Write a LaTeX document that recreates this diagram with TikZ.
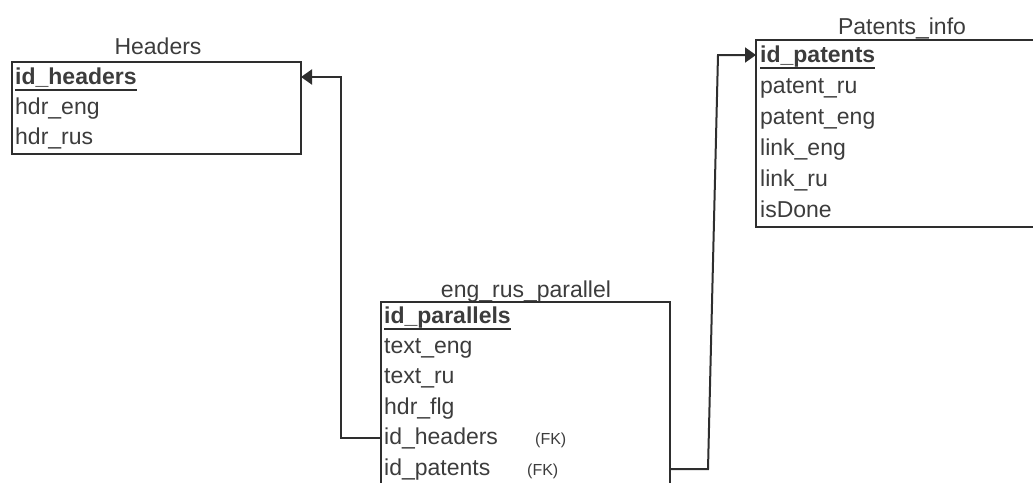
\documentclass[tikz,border=0pt]{standalone}
\usepackage{fontspec}
\setmainfont{Liberation Sans}
\usetikzlibrary{arrows.meta}
\definecolor{txt}{HTML}{3C3C3C}
\definecolor{ln}{HTML}{2E2E2E}
\begin{document}
\begin{tikzpicture}[x=1pt,y=-1pt,
  tbl/.style={draw=ln,line width=2pt,fill=none},
  row/.style={inner sep=0pt,anchor=base west,text=txt,font=\fontsize{23}{23}\selectfont},
  pk/.style={row,font=\fontsize{23}{23}\selectfont\bfseries},
  ttl/.style={inner sep=0pt,anchor=base,text=txt,font=\fontsize{23}{23}\selectfont},
  fk/.style={inner sep=0pt,anchor=base west,text=txt,font=\fontsize{16}{16}\selectfont},
  ul/.style={draw=ln,line width=2.2pt},
  conn/.style={draw=ln,line width=2pt},
  tip/.style={-{Triangle[length=11pt,width=15pt]}}]
\useasboundingbox (0,0) rectangle (1033,482);
\clip (0,0) rectangle (1033,482);
% Headers
\node[ttl] (hT) at (158,54.5) {Headers};
\draw[tbl] (12,62) rectangle (301,154);
\coordinate (hR) at (301,77);
\node[pk] (h1) at (15,84) {id\_headers};
\node[row] (h2) at (15,114) {hdr\_eng};
\node[row] (h3) at (15,144.5) {hdr\_rus};
\draw[ul] ([yshift=-6pt]h1.base west) -- ([yshift=-6pt]h1.base east);
% Patents_info
\node[ttl] (pT) at (902,34.5) {Patents\_info};
\draw[tbl] (756,40) rectangle (1045,227);
\coordinate (pL) at (756,55);
\node[pk] (p1) at (760,62) {id\_patents};
\node[row] (p2) at (760,93) {patent\_ru};
\node[row] (p3) at (760,124) {patent\_eng};
\node[row] (p4) at (760,155) {link\_eng};
\node[row] (p5) at (760,186) {link\_ru};
\node[row] (p6) at (760,217) {isDone};
\draw[ul] ([yshift=-6pt]p1.base west) -- ([yshift=-6pt]p1.base east);
% eng_rus_parallel
\node[ttl] (eT) at (526,297.5) {eng\_rus\_parallel};
\draw[tbl] (381,302) rectangle (670,495);
\node[pk] (e1) at (384,323) {id\_parallels};
\node[row] (e2) at (384,353.4) {text\_eng};
\node[row] (e3) at (384,383.8) {text\_ru};
\node[row] (e4) at (384,414.2) {hdr\_flg};
\node[row] (e5) at (384,444.6) {id\_headers};
\node[row] (e6) at (384,475) {id\_patents};
\node[fk] (f5) at (535,444.6) {(FK)};
\node[fk] (f6) at (527,475) {(FK)};
\draw[ul] ([yshift=-6pt]e1.base west) -- ([yshift=-6pt]e1.base east);
\coordinate (eL) at (381,438);
\coordinate (eR) at (670,469);
% connectors
\coordinate (b1) at (341,438);
\coordinate (b2) at (341,77);
\draw[conn,tip] (eL) -- (b1) -- (b2) -- (hR);
\coordinate (c1) at (708,469);
\coordinate (c2) at (718,55);
\draw[conn,tip] (eR) -- (c1) -- (c2) -- (pL);
\end{tikzpicture}
\end{document}
